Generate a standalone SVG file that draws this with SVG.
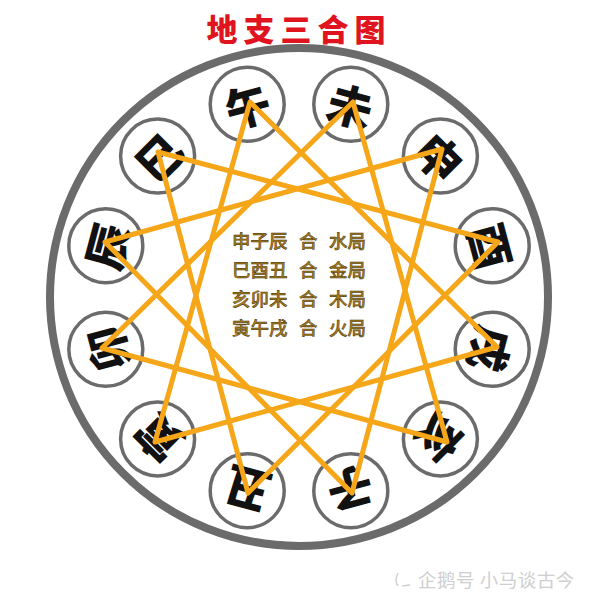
<svg xmlns="http://www.w3.org/2000/svg" width="600" height="600" viewBox="0 0 600 600">
<style>
.ring{fill:#fff;stroke:#6b6b6b;stroke-width:3.5}
.ch{font-family:"Noto Sans CJK SC","Noto Sans CJK JP",sans-serif;font-size:45px;font-weight:900;fill:#111;text-anchor:middle;dominant-baseline:central}
.tri{fill:none;stroke:#f5a619;stroke-width:5;stroke-linejoin:round}
.mid{font-family:"Noto Sans CJK SC",sans-serif;font-size:18.5px;font-weight:500;fill:#a47c1c;stroke:#3a2800;stroke-width:0.45}
</style>
<rect width="600" height="600" fill="#fff"/>
<circle cx="299" cy="297" r="249" fill="#fff" stroke="#6b6b6b" stroke-width="8"/>
<g id="wu"><circle class="ring" cx="247.2" cy="104.3" r="37"/><text class="ch" transform="translate(247.2,104.3) rotate(-15)">午</text></g>
<g id="wei"><circle class="ring" cx="350.8" cy="104.3" r="37"/><text class="ch" transform="translate(350.8,104.3) rotate(15)">未</text></g>
<g id="shen"><circle class="ring" cx="440.4" cy="156.1" r="37"/><text class="ch" transform="translate(440.4,156.1) rotate(45)">申</text></g>
<g id="you"><circle class="ring" cx="492.2" cy="245.7" r="37"/><text class="ch" transform="translate(492.2,245.7) rotate(75)">酉</text></g>
<g id="xu"><circle class="ring" cx="492.2" cy="349.3" r="37"/><text class="ch" transform="translate(492.2,349.3) rotate(105)">戌</text></g>
<g id="hai"><circle class="ring" cx="440.4" cy="438.9" r="37"/><text class="ch" transform="translate(440.4,438.9) rotate(135)">亥</text></g>
<g id="zi"><circle class="ring" cx="350.8" cy="490.7" r="37"/><text class="ch" transform="translate(350.8,490.7) rotate(165)">子</text></g>
<g id="chou"><circle class="ring" cx="247.2" cy="490.7" r="37"/><text class="ch" transform="translate(247.2,490.7) rotate(195)">丑</text></g>
<g id="yin"><circle class="ring" cx="157.6" cy="438.9" r="37"/><text class="ch" transform="translate(157.6,438.9) rotate(225)">寅</text></g>
<g id="mao"><circle class="ring" cx="105.8" cy="349.3" r="37"/><text class="ch" transform="translate(105.8,349.3) rotate(255)">卯</text></g>
<g id="chen"><circle class="ring" cx="105.8" cy="245.7" r="37"/><text class="ch" transform="translate(105.8,245.7) rotate(285)">辰</text></g>
<g id="si"><circle class="ring" cx="157.6" cy="156.1" r="37"/><text class="ch" transform="translate(157.6,156.1) rotate(315)">巳</text></g>
<g id="connectors">
<polygon class="tri" points="442,149 352,493 105,242"/>
<polygon class="tri" points="158,152 498,242 248,493"/>
<polygon class="tri" points="447,442 102,348 353,102"/>
<polygon class="tri" points="155,442 250,102 497,347"/>
</g>
<g id="legend" class="mid">
<text x="232" y="248">申子辰</text><text x="299" y="248">合</text><text x="329" y="248">水局</text>
<text x="232" y="277">巳酉丑</text><text x="299" y="277">合</text><text x="329" y="277">金局</text>
<text x="232" y="306">亥卯未</text><text x="299" y="306">合</text><text x="329" y="306">木局</text>
<text x="232" y="335">寅午戌</text><text x="299" y="335">合</text><text x="329" y="335">火局</text>
</g>
<text x="299" y="41" text-anchor="middle" font-family="Noto Sans CJK SC,sans-serif" font-size="31" font-weight="900" fill="#e0141e" letter-spacing="6">地支三合图</text>
<g id="watermark">
<path d="M398,573 q-4,8 0,13 M402,586 l8,-1" fill="none" stroke="#d0d0d0" stroke-width="1.5"/>
<text x="418" y="587" font-family="Noto Sans CJK SC,sans-serif" font-size="18.5" fill="#cfcfcf" letter-spacing="0.5">企鹅号 小马谈古今</text>
</g>
</svg>
